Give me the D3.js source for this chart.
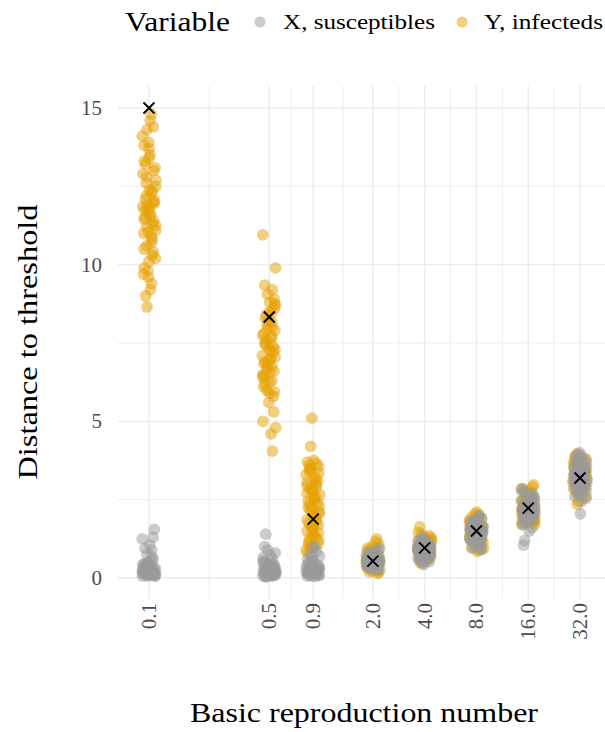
<!DOCTYPE html>
<html>
<head>
<meta charset="utf-8">
<script src="https://cdn.jsdelivr.net/npm/d3@7"></script>
<style>
  html, body { margin: 0; padding: 0; background: #ffffff; }
  svg text { font-family: "Liberation Serif", "DejaVu Serif", serif; }
</style>
</head>
<body>
<svg id="chart" width="605" height="732"></svg>
<script>
// Basic reproduction numbers (x categories, log scale)
const r0Values = [0.1, 0.5, 0.9, 2.0, 4.0, 8.0, 16.0, 32.0];
const xTickLabels = ["0.1", "0.5", "0.9", "2.0", "4.0", "8.0", "16.0", "32.0"];
const yTickValues = [0, 5, 10, 15];
const seriesNames = ["X, susceptibles", "Y, infecteds"];

// Distance to threshold, infecteds (Y), one array per R0
const infected_0_1 = [14.8, 14.6, 14.4, 14.3, 14.1, 13.9, 13.8, 13.7, 13.5, 13.4, 13.3, 13.2, 13.1, 13.0, 12.9, 12.8, 12.7, 12.6, 12.5, 12.4, 12.35, 12.3, 12.2, 12.1, 12.05, 12.0, 11.95, 11.9, 11.85, 11.8, 11.75, 11.7, 11.6, 11.55, 11.5, 11.45, 11.4, 11.3, 11.25, 11.2, 11.1, 11.05, 11.0, 10.9, 10.8, 10.7, 10.6, 10.5, 10.4, 10.3, 10.2, 10.1, 9.9, 9.8, 9.7, 9.6, 9.4, 9.2, 9.0, 8.65];
const infected_0_5 = [10.95, 9.9, 9.35, 9.2, 9.05, 8.9, 8.8, 8.75, 8.7, 8.6, 8.5, 8.45, 8.4, 8.3, 8.2, 8.15, 8.1, 8.0, 7.95, 7.9, 7.8, 7.75, 7.7, 7.65, 7.6, 7.5, 7.45, 7.4, 7.35, 7.3, 7.25, 7.2, 7.1, 7.05, 7.0, 6.95, 6.9, 6.85, 6.8, 6.75, 6.7, 6.6, 6.55, 6.5, 6.45, 6.4, 6.3, 6.25, 6.2, 6.1, 6.0, 5.95, 5.9, 5.8, 5.6, 5.3, 5.0, 4.8, 4.6, 4.05];
const infected_0_9 = [5.1, 4.2, 3.75, 3.7, 3.65, 3.6, 3.55, 3.5, 3.45, 3.4, 3.35, 3.3, 3.2, 3.15, 3.1, 3.05, 3.0, 2.95, 2.9, 2.85, 2.8, 2.75, 2.7, 2.65, 2.6, 2.55, 2.5, 2.45, 2.4, 2.35, 2.3, 2.25, 2.2, 2.15, 2.1, 2.05, 2.0, 1.95, 1.9, 1.85, 1.8, 1.75, 1.7, 1.65, 1.6, 1.55, 1.5, 1.45, 1.4, 1.35, 1.3, 1.25, 1.2, 1.15, 1.1, 1.05, 1.0, 0.95, 0.9, 0.8];
const infected_2 = [1.25, 1.15, 1.1, 1.0, 0.95, 0.9, 0.88, 0.85, 0.82, 0.8, 0.78, 0.75, 0.73, 0.7, 0.68, 0.66, 0.65, 0.63, 0.62, 0.6, 0.59, 0.58, 0.57, 0.56, 0.55, 0.54, 0.53, 0.52, 0.51, 0.5, 0.49, 0.48, 0.47, 0.46, 0.45, 0.44, 0.42, 0.4, 0.38, 0.36, 0.34, 0.32, 0.3, 0.28, 0.26, 0.24, 0.22, 0.2, 0.18, 0.15];
const infected_4 = [1.63, 1.45, 1.4, 1.35, 1.3, 1.28, 1.25, 1.22, 1.2, 1.18, 1.15, 1.12, 1.1, 1.08, 1.06, 1.05, 1.04, 1.02, 1.0, 0.99, 0.98, 0.97, 0.96, 0.95, 0.94, 0.93, 0.92, 0.91, 0.9, 0.89, 0.88, 0.87, 0.86, 0.85, 0.84, 0.82, 0.8, 0.78, 0.76, 0.74, 0.72, 0.7, 0.68, 0.66, 0.64, 0.62, 0.6, 0.56, 0.52, 0.48];
const infected_8 = [2.1, 2.05, 2.0, 1.95, 1.9, 1.88, 1.85, 1.82, 1.8, 1.78, 1.75, 1.72, 1.7, 1.68, 1.66, 1.64, 1.62, 1.6, 1.58, 1.56, 1.55, 1.54, 1.52, 1.5, 1.48, 1.46, 1.45, 1.44, 1.42, 1.4, 1.38, 1.36, 1.34, 1.32, 1.3, 1.28, 1.26, 1.24, 1.22, 1.2, 1.18, 1.15, 1.12, 1.1, 1.06, 1.02, 0.98, 0.94, 0.9, 0.85];
const infected_16 = [2.97, 2.9, 2.85, 2.8, 2.75, 2.7, 2.66, 2.62, 2.58, 2.55, 2.52, 2.5, 2.48, 2.45, 2.42, 2.4, 2.38, 2.36, 2.34, 2.32, 2.3, 2.28, 2.26, 2.24, 2.22, 2.2, 2.18, 2.16, 2.14, 2.12, 2.1, 2.08, 2.06, 2.04, 2.02, 2.0, 1.98, 1.96, 1.94, 1.92, 1.9, 1.88, 1.86, 1.84, 1.82, 1.8, 1.78, 1.75, 1.72, 1.7];
const infected_32 = [3.95, 3.9, 3.85, 3.8, 3.76, 3.72, 3.68, 3.65, 3.62, 3.58, 3.55, 3.52, 3.5, 3.47, 3.45, 3.42, 3.4, 3.38, 3.36, 3.34, 3.32, 3.3, 3.28, 3.26, 3.24, 3.22, 3.2, 3.18, 3.16, 3.14, 3.12, 3.1, 3.08, 3.06, 3.04, 3.02, 3.0, 2.97, 2.94, 2.91, 2.88, 2.85, 2.82, 2.78, 2.74, 2.7, 2.62, 2.55, 2.45, 2.35];

// Distance to threshold, susceptibles (X), one array per R0
const suscept_0_1 = [1.55, 1.3, 1.25, 1.05, 0.95, 0.9, 0.75, 0.68, 0.6, 0.55, 0.5, 0.48, 0.45, 0.42, 0.4, 0.38, 0.36, 0.35, 0.33, 0.32, 0.3, 0.29, 0.28, 0.27, 0.26, 0.25, 0.24, 0.23, 0.22, 0.21, 0.2, 0.2, 0.19, 0.18, 0.17, 0.16, 0.15, 0.15, 0.14, 0.13, 0.12, 0.12, 0.11, 0.1, 0.1, 0.09, 0.08, 0.07, 0.06, 0.05];
const suscept_0_5 = [1.4, 1.0, 0.9, 0.8, 0.72, 0.65, 0.6, 0.55, 0.5, 0.47, 0.45, 0.42, 0.4, 0.38, 0.36, 0.35, 0.33, 0.31, 0.3, 0.28, 0.27, 0.26, 0.25, 0.24, 0.23, 0.22, 0.21, 0.2, 0.19, 0.18, 0.17, 0.16, 0.15, 0.14, 0.13, 0.12, 0.11, 0.1, 0.1, 0.09, 0.08, 0.07, 0.06, 0.05, 0.05, 0.04, 0.1, 0.2, 0.3, 0.15];
const suscept_0_9 = [1.0, 0.95, 0.85, 0.75, 0.7, 0.65, 0.6, 0.55, 0.5, 0.48, 0.45, 0.43, 0.4, 0.38, 0.36, 0.35, 0.33, 0.32, 0.3, 0.29, 0.28, 0.27, 0.26, 0.25, 0.24, 0.23, 0.22, 0.21, 0.2, 0.19, 0.18, 0.17, 0.16, 0.15, 0.14, 0.13, 0.12, 0.11, 0.1, 0.09, 0.08, 0.07, 0.06, 0.05, 0.2, 0.3, 0.4, 0.25, 0.15, 0.35];
const suscept_2 = [0.95, 0.9, 0.85, 0.8, 0.78, 0.75, 0.72, 0.7, 0.68, 0.67, 0.66, 0.65, 0.64, 0.63, 0.62, 0.61, 0.6, 0.59, 0.58, 0.57, 0.56, 0.55, 0.54, 0.53, 0.52, 0.51, 0.5, 0.49, 0.48, 0.47, 0.46, 0.45, 0.44, 0.43, 0.42, 0.41, 0.4, 0.38, 0.36, 0.34, 0.32, 0.3, 0.28, 0.26, 0.6, 0.55, 0.5, 0.65, 0.7, 0.45];
const suscept_4 = [1.3, 1.25, 1.2, 1.17, 1.15, 1.12, 1.1, 1.08, 1.06, 1.04, 1.02, 1.0, 0.99, 0.98, 0.97, 0.96, 0.95, 0.94, 0.93, 0.92, 0.91, 0.9, 0.89, 0.88, 0.87, 0.86, 0.85, 0.84, 0.83, 0.82, 0.8, 0.78, 0.76, 0.74, 0.72, 0.7, 0.68, 0.66, 0.64, 0.62, 0.6, 0.56, 0.52, 0.48, 0.43, 1.0, 0.95, 0.9, 1.05, 0.85];
const suscept_8 = [2.0, 1.95, 1.9, 1.85, 1.82, 1.8, 1.77, 1.75, 1.72, 1.7, 1.68, 1.66, 1.64, 1.62, 1.6, 1.58, 1.57, 1.56, 1.55, 1.54, 1.53, 1.52, 1.51, 1.5, 1.49, 1.48, 1.47, 1.46, 1.45, 1.44, 1.42, 1.4, 1.38, 1.36, 1.34, 1.32, 1.3, 1.28, 1.26, 1.24, 1.22, 1.2, 1.17, 1.14, 1.1, 1.05, 1.0, 0.95, 0.92, 0.9];
const suscept_16 = [2.85, 2.8, 2.75, 2.7, 2.65, 2.6, 2.56, 2.52, 2.48, 2.45, 2.42, 2.4, 2.38, 2.36, 2.34, 2.32, 2.3, 2.28, 2.26, 2.25, 2.24, 2.23, 2.22, 2.21, 2.2, 2.19, 2.18, 2.17, 2.16, 2.15, 2.14, 2.12, 2.1, 2.08, 2.06, 2.04, 2.02, 2.0, 1.98, 1.95, 1.92, 1.88, 1.85, 1.8, 1.75, 1.7, 1.6, 1.5, 1.2, 1.05];
const suscept_32 = [4.0, 3.95, 3.9, 3.85, 3.8, 3.75, 3.7, 3.66, 3.62, 3.58, 3.55, 3.52, 3.5, 3.48, 3.45, 3.42, 3.4, 3.38, 3.36, 3.34, 3.32, 3.3, 3.28, 3.26, 3.24, 3.22, 3.2, 3.18, 3.16, 3.14, 3.12, 3.1, 3.08, 3.06, 3.04, 3.02, 3.0, 2.97, 2.94, 2.9, 2.86, 2.82, 2.78, 2.74, 2.7, 2.65, 2.6, 2.55, 2.45, 2.05];

// Threshold marker per R0 (black crosses)
const thresholdValues = [15.0, 8.33, 1.88, 0.54, 0.96, 1.5, 2.23, 3.19];

const infectedByR0 = [infected_0_1, infected_0_5, infected_0_9, infected_2, infected_4, infected_8, infected_16, infected_32];
const susceptByR0 = [suscept_0_1, suscept_0_5, suscept_0_9, suscept_2, suscept_4, suscept_8, suscept_16, suscept_32];

const colors = { X: "#999999", Y: "#E69F00" };

const svg = d3.select("#chart");

// Panel geometry
const panel = { left: 118, right: 605, top: 86, bottom: 599 };

const x = d3.scaleLog().domain([0.1, 32]).range([149, 580]);
const y = d3.scaleLinear().domain([0, 15]).range([578, 108]);

// Grid: minor lines halfway (in log space) between major breaks
const xMinor = d3.pairs(r0Values).map(([a, b]) => Math.sqrt(a * b));
const yMinor = [2.5, 7.5, 12.5];

const grid = svg.append("g").attr("stroke", "#ebebeb").attr("fill", "none");
grid.selectAll("line.ymin").data(yMinor).join("line")
  .attr("x1", panel.left).attr("x2", panel.right)
  .attr("y1", d => y(d)).attr("y2", d => y(d)).attr("stroke-width", 0.9);
grid.selectAll("line.xmin").data(xMinor).join("line")
  .attr("y1", panel.top).attr("y2", panel.bottom)
  .attr("x1", d => x(d)).attr("x2", d => x(d)).attr("stroke-width", 0.9);
grid.selectAll("line.ymaj").data(yTickValues).join("line")
  .attr("x1", panel.left).attr("x2", panel.right)
  .attr("y1", d => y(d)).attr("y2", d => y(d)).attr("stroke-width", 1.4);
grid.selectAll("line.xmaj").data(r0Values).join("line")
  .attr("y1", panel.top).attr("y2", panel.bottom)
  .attr("x1", d => x(d)).attr("x2", d => x(d)).attr("stroke-width", 1.4);

// Horizontal jitter in log2 units, from scrambled van der Corput sequences
const jitterSpan = 0.135;
function radicalInverse(n, base) {
  let inv = 1 / base, f = inv, r = 0;
  while (n > 0) { r += (n % base) * f; n = Math.floor(n / base); f *= inv; }
  return r;
}
function jitter(i, g, s) {
  const u = (radicalInverse(i + 1, 2) + 0.5 * radicalInverse(i + 1, 3) + g * 0.37 + s * 0.21) % 1;
  return (u * 2 - 1) * jitterSpan;
}

function buildPoints(arrays, key, s) {
  const pts = [];
  arrays.forEach((vals, g) => {
    vals.forEach((v, i) => {
      pts.push({ r0: r0Values[g] * Math.pow(2, jitter(i, g, s)), value: v, key });
    });
  });
  return pts;
}

const infectedPts = buildPoints(infectedByR0, "Y", 0);
const susceptPts = buildPoints(susceptByR0, "X", 1);

const pointR = 5.9;
const pointsG = svg.append("g");
pointsG.selectAll("circle.y").data(infectedPts).join("circle")
  .attr("cx", d => x(d.r0)).attr("cy", d => y(d.value)).attr("r", pointR)
  .attr("fill", colors.Y).attr("fill-opacity", 0.5);
pointsG.selectAll("circle.x").data(susceptPts).join("circle")
  .attr("cx", d => x(d.r0)).attr("cy", d => y(d.value)).attr("r", pointR)
  .attr("fill", colors.X).attr("fill-opacity", 0.5);

// Threshold crosses
const cross = 5.5;
const crossG = svg.append("g").attr("stroke", "#000").attr("stroke-width", 1.9);
thresholdValues.forEach((v, g) => {
  const cx = x(r0Values[g]), cy = y(v);
  crossG.append("path")
    .attr("d", `M${cx - cross},${cy - cross}L${cx + cross},${cy + cross}M${cx - cross},${cy + cross}L${cx + cross},${cy - cross}`);
});

// Y axis tick labels
svg.append("g").selectAll("text").data(yTickValues).join("text")
  .attr("x", 102).attr("y", d => y(d) + 7)
  .attr("text-anchor", "end").attr("font-size", 21).attr("fill", "#4d4d4d")
  .text(d => d);

// X axis tick labels (rotated)
svg.append("g").selectAll("text").data(r0Values).join("text")
  .attr("transform", d => `translate(${x(d) + 7},603) rotate(-90)`)
  .attr("text-anchor", "end").attr("font-size", 21).attr("fill", "#4d4d4d")
  .text((d, i) => xTickLabels[i]);

// Axis titles
svg.append("text")
  .attr("x", 364).attr("y", 722).attr("text-anchor", "middle")
  .attr("font-size", 28).attr("fill", "#000")
  .attr("textLength", 348).attr("lengthAdjust", "spacingAndGlyphs")
  .text("Basic reproduction number");

svg.append("text")
  .attr("transform", "translate(37,342) rotate(-90)").attr("text-anchor", "middle")
  .attr("font-size", 28).attr("fill", "#000")
  .attr("textLength", 275).attr("lengthAdjust", "spacingAndGlyphs")
  .text("Distance to threshold");

// Legend
const legend = svg.append("g");
legend.append("text")
  .attr("x", 125).attr("y", 31).attr("font-size", 28).attr("fill", "#000")
  .attr("textLength", 105).attr("lengthAdjust", "spacingAndGlyphs")
  .text("Variable");

const legendItems = [
  { key: "X", label: seriesNames[0], dot: 260, tx: 283, len: 152 },
  { key: "Y", label: seriesNames[1], dot: 462, tx: 484, len: 119 }
];
legendItems.forEach(it => {
  legend.append("circle").attr("cx", it.dot).attr("cy", 22).attr("r", 5.5)
    .attr("fill", colors[it.key]).attr("fill-opacity", 0.5);
  legend.append("text").attr("x", it.tx).attr("y", 29).attr("font-size", 22)
    .attr("fill", "#000").attr("textLength", it.len).attr("lengthAdjust", "spacingAndGlyphs")
    .text(it.label);
});
</script>
</body>
</html>
